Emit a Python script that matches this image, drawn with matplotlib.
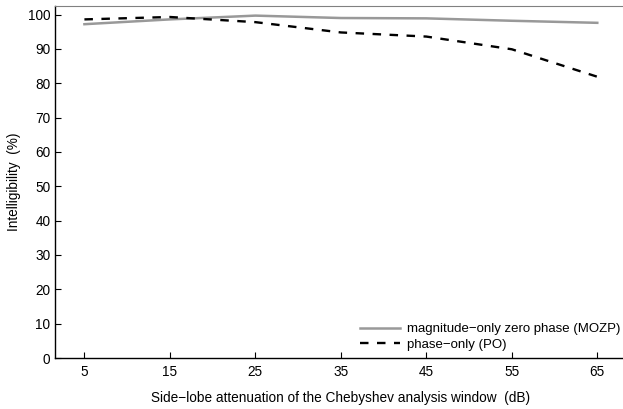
import matplotlib
matplotlib.use("Agg")
import matplotlib.pyplot as plt

plt.rcParams['font.family'] = ['Liberation Sans', 'DejaVu Sans']

attenuation = [5, 15, 25, 35, 45, 55, 65]
mozp = [97.2, 98.6, 99.7, 99.0, 98.9, 98.2, 97.6]
po = [98.6, 99.3, 97.8, 94.8, 93.6, 89.9, 81.9]
yticks = [0, 10, 20, 30, 40, 50, 60, 70, 80, 90, 100]

fig = plt.figure(figsize=(6.23, 4.09), dpi=100)
ax = fig.add_axes([54.5/623, 1-358/409, (627.2-54.5)/623, (358-6)/409])

ax.plot(attenuation, mozp, color='#999999', lw=1.8, label='magnitude\u2212only zero phase (MOZP)')
ax.plot(attenuation, po, color='black', lw=1.7, dashes=(3.6, 3.6), label='phase\u2212only (PO)')

ax.set_xlim(1.5, 68.5)
ax.set_ylim(0, 102.5)
ax.set_xticks(attenuation)
ax.set_yticks(yticks)
ax.tick_params(direction='in', length=4, labelsize=9.8, width=0.8)
ax.tick_params(axis='x', pad=5)
ax.tick_params(axis='y', pad=3)
ax.spines['top'].set_color('#808080')
ax.spines['right'].set_visible(False)
for s in ['left', 'bottom']:
    ax.spines[s].set_linewidth(1.0)

ax.set_xlabel('Side\u2212lobe attenuation of the Chebyshev analysis window  (dB)', fontsize=9.8, labelpad=9)
ax.set_ylabel('Intelligibility  (%)', fontsize=9.8, labelpad=5)

ax.legend(loc='lower left', bbox_to_anchor=(0.52, 0.0), frameon=False, fontsize=9.5,
          handlelength=3.1, handletextpad=0.5, labelspacing=0.25, borderaxespad=0.15)

fig.savefig('out.png', dpi=100)
